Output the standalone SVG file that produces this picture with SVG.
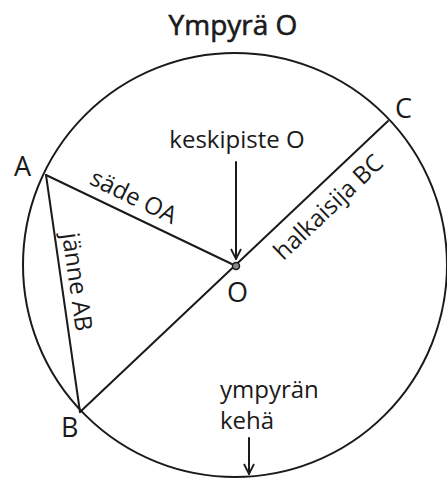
<svg xmlns="http://www.w3.org/2000/svg" width="447" height="479" viewBox="0 0 447 479">
<defs>
<style>
.ln{stroke:#1a1a1a;stroke-width:2;fill:none;stroke-linecap:round}
.t{font-family:"Open Sans","Liberation Sans",sans-serif;font-size:24px;fill:#1a1a1a}
.pt{font-family:"Open Sans","Liberation Sans",sans-serif;font-size:27px;fill:#1a1a1a}
.ttl{font-family:"Open Sans","Liberation Sans",sans-serif;font-size:28px;fill:#1a1a1a;stroke:#1a1a1a;stroke-width:0.6}
</style>
<marker id="ah" viewBox="0 0 12 12" refX="11" refY="6" markerWidth="12" markerHeight="12" markerUnits="userSpaceOnUse" orient="auto">
<path d="M1,1 L11,6 L1,11" fill="none" stroke="#1a1a1a" stroke-width="1.8"/>
</marker>
</defs>
<rect width="447" height="479" fill="#fff"/>
<g id="title"><text class="ttl" x="233" y="35" text-anchor="middle">Ympyrä O</text></g>
<g id="circle"><circle class="ln" cx="235" cy="265" r="212"/></g>
<g id="connectors">
<line id="radius-OA" class="ln" x1="46" y1="175" x2="236" y2="266"/>
<line id="diameter-BC" class="ln" x1="80" y1="412" x2="388" y2="121"/>
<line id="chord-AB" class="ln" x1="46" y1="175" x2="80" y2="412"/>
<line id="arrow-center" class="ln" x1="236" y1="162" x2="236" y2="259" marker-end="url(#ah)"/>
<line id="arrow-circumference" class="ln" x1="249" y1="438" x2="249" y2="474" marker-end="url(#ah)"/>
</g>
<g id="center-O"><circle cx="236" cy="266" r="3.5" fill="#888" stroke="#1a1a1a" stroke-width="1.5"/></g>
<g id="point-A"><text class="pt" x="14" y="176">A</text></g>
<g id="point-B"><text class="pt" x="61" y="437">B</text></g>
<g id="point-C"><text class="pt" x="395" y="118">C</text></g>
<g id="point-O"><text class="pt" x="227" y="302">O</text></g>
<g id="label-center"><text class="t" x="237" y="148" text-anchor="middle">keskipiste O</text></g>
<g id="label-radius"><text class="t" transform="translate(130,204) rotate(26)" text-anchor="middle">säde OA</text></g>
<g id="label-diameter"><text class="t" transform="translate(334,213) rotate(-43.6)" text-anchor="middle">halkaisija BC</text></g>
<g id="label-chord"><text class="t" transform="translate(69,283) rotate(81.8)" text-anchor="middle">jänne AB</text></g>
<g id="label-circumference"><text class="t" x="220" y="398">ympyrän</text><text class="t" x="220" y="429">kehä</text></g>
</svg>
